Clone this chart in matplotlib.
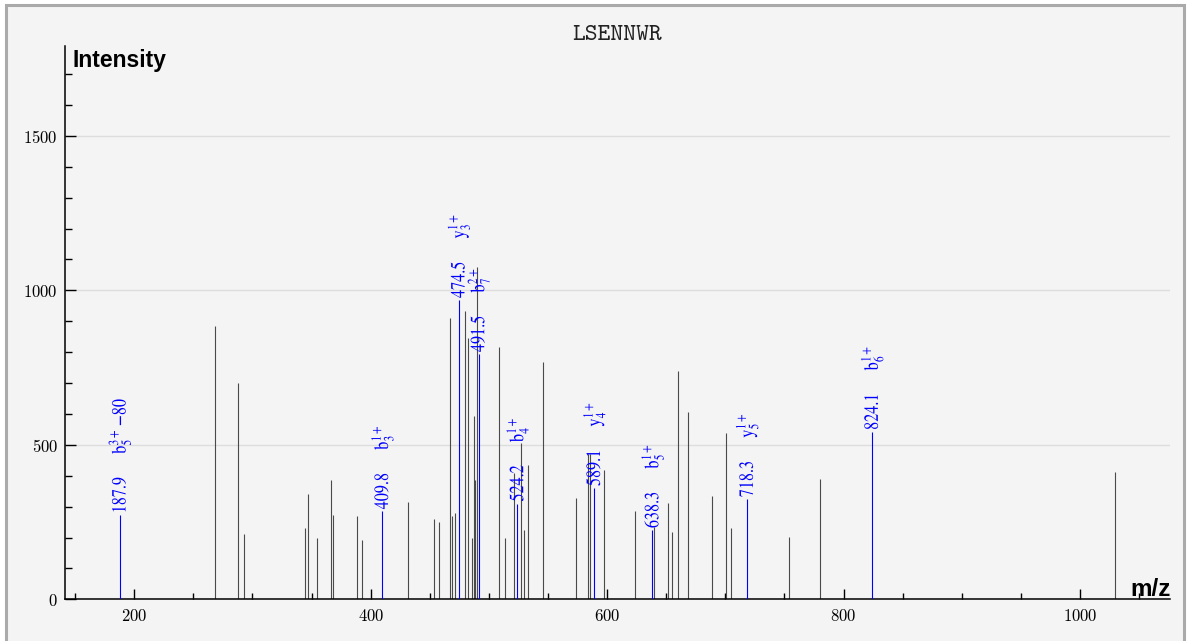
import matplotlib
matplotlib.use('Agg')
import matplotlib.pyplot as plt
from matplotlib.patheffects import AbstractPathEffect
from matplotlib.transforms import Affine2D
from matplotlib.ticker import MultipleLocator
from matplotlib.patches import Rectangle

# ---------------- data ----------------
title = "LSENNWR"

peak_mz = [267.9, 287.9, 293.2, 344.6, 346.9, 354.5, 366.6, 368.1, 388.6, 392.9,
           431.8, 453.6, 457.5, 467.4, 469.2, 471.1, 480.1, 482.1, 486.0, 487.3,
           488.6, 489.8, 508.2, 514.0, 521.3, 527.4, 530.0, 533.2, 546.1, 573.5,
           583.5, 585.5, 597.2, 623.5, 640.1, 651.5, 655.2, 659.6, 668.2, 688.5,
           700.4, 705.2, 753.5, 779.7, 1029.6]
peak_int = [885, 700, 210, 231, 341, 198, 385, 272, 271, 192,
            314, 261, 249, 910, 270, 279, 933, 847, 197, 592,
            385, 1075, 816, 200, 410, 506, 224, 434, 767, 328,
            470, 470, 417, 286, 234, 313, 219, 739, 607, 334,
            537, 232, 202, 389, 412]

ion_mz = [187.9, 409.8, 474.5, 491.5, 524.2, 589.1, 638.3, 718.3, 824.1]
ion_int = [272, 285, 969, 794, 310, 360, 224, 324, 542]
ion_type = ['b', 'b', 'y', 'b', 'b', 'y', 'b', 'y', 'b']
ion_num = ['5', '3', '3', '7', '4', '4', '5', '5', '6']
ion_charge = ['3+', '1+', '1+', '2+', '1+', '1+', '1+', '1+', '1+']
ion_suffix = ['-80', '', '', '', '', '', '', '', '']

x_major = 200
x_minor = 50
y_major = 500
y_minor = 100


class Squeeze(AbstractPathEffect):
    """Compress rendered glyph paths along the display y axis."""
    def __init__(self, sy):
        super().__init__()
        self.sy = sy

    def draw_path(self, renderer, gc, tpath, affine, rgbFace=None):
        m = affine.get_matrix()
        tx, ty = m[0, 2], m[1, 2]
        a2 = affine + Affine2D().translate(-tx, -ty).scale(1, self.sy).translate(tx, ty)
        renderer.draw_path(gc, tpath, a2, rgbFace)


plt.rcParams['font.family'] = 'cmr10'
plt.rcParams['axes.formatter.use_mathtext'] = True
plt.rcParams['mathtext.fontset'] = 'stix'

W, H = 1188, 641
fig = plt.figure(figsize=(W / 100, H / 100), dpi=100, facecolor='white')
fig.patches.append(Rectangle((6 / W, -0.1), (1184 - 6) / W, (H - 4.5) / H + 0.1,
                             transform=fig.transFigure, facecolor='#f4f4f4',
                             edgecolor='#aaaaaa', linewidth=2.2, zorder=-5))

ax = fig.add_axes([65 / W, (H - 599.3) / H, (1170 - 65) / W, (599.3 - 46) / H])
ax.set_facecolor('none')
ax.set_xlim(141.4, 1076.2)
ax.set_ylim(0, 1791)

ax.vlines(peak_mz, 0, peak_int, colors='#4a4a4a', linewidth=0.8, zorder=2)
ax.vlines(ion_mz, 0, ion_int, colors='#0000ff', linewidth=0.8, zorder=3)

ax.yaxis.grid(True, which='major', color='#dddddd', linewidth=1.0)
ax.set_axisbelow(True)

for side in ('top', 'right'):
    ax.spines[side].set_visible(False)
for side in ('left', 'bottom'):
    ax.spines[side].set_linewidth(1.1)
    ax.spines[side].set_color('black')

ax.xaxis.set_major_locator(MultipleLocator(x_major))
ax.xaxis.set_minor_locator(MultipleLocator(x_minor))
ax.yaxis.set_major_locator(MultipleLocator(y_major))
ax.yaxis.set_minor_locator(MultipleLocator(y_minor))
ax.tick_params(which='both', direction='in', color='black', width=1.0, labelsize=12)
ax.tick_params(axis='x', which='major', length=7.2, pad=6)
ax.tick_params(axis='x', which='minor', length=4.3)
ax.tick_params(axis='y', which='major', length=7.9, pad=5)
ax.tick_params(axis='y', which='minor', length=5.0)

for mz, inten, t, n, c, suf in zip(ion_mz, ion_int, ion_type, ion_num, ion_charge, ion_suffix):
    tail = (r"\,{" + suf[0] + r"}" + suf[1:]) if suf else ""
    s = (r"$\mathrm{" + f"{mz:.1f}" + r"}\qquad\mathrm{" + t + r"}_{" + n + r"}^{" + c + r"}"
         + tail + r"$")
    ax.annotate(s, (mz, inten), xytext=(0, 2), textcoords='offset pixels',
                rotation=90, ha='center', va='bottom', color='#0000ff', fontsize=14.5,
                path_effects=[Squeeze(0.8)], zorder=4)

fig.text(0.5 * (65 + 1170) / W, 1 - 35 / H, title, family='cmtt10', fontsize=17.5,
         ha='center', va='center', color='#222222')
fig.text(72 / W, 1 - 67 / H, 'Intensity', family='Liberation Sans', fontweight='bold',
         fontsize=16.5, ha='left', va='baseline', color='black')
fig.text(1171 / W, 1 - 596 / H, 'm/z', family='Liberation Sans', fontweight='bold',
         fontsize=17.5, ha='right', va='baseline', color='black')

fig.savefig('out.png', dpi=100, facecolor=fig.get_facecolor())
